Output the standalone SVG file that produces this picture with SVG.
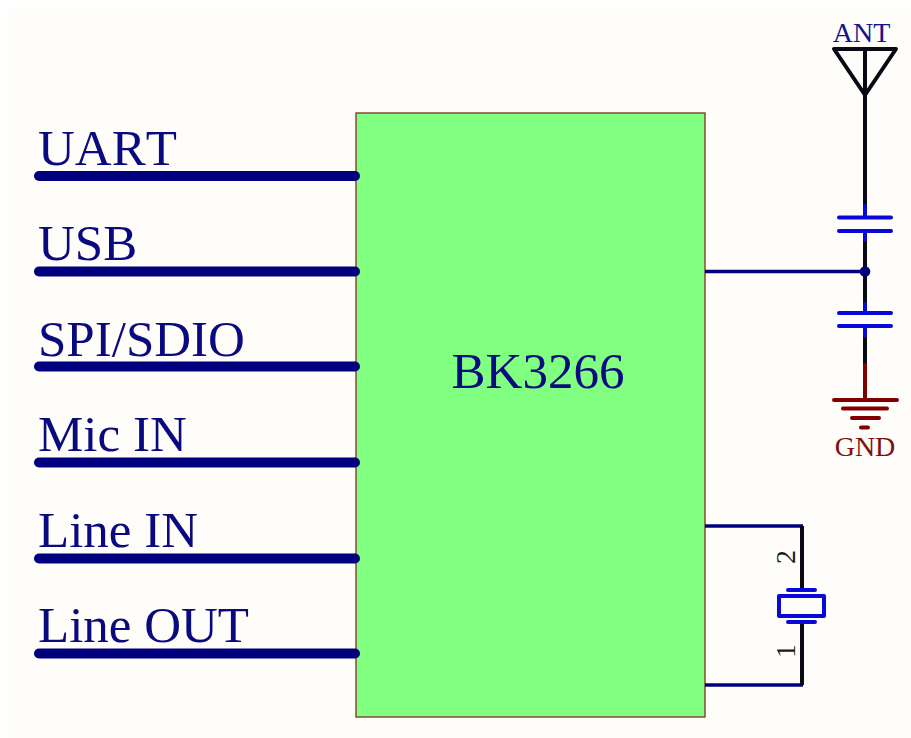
<svg xmlns="http://www.w3.org/2000/svg" width="911" height="738" viewBox="0 0 911 738">
<style>
text{font-family:"Liberation Serif","Times New Roman",serif;font-kerning:none}
.bus{stroke:#00007f;stroke-width:10;stroke-linecap:round;fill:none}
.lab{fill:#0a0a80;font-size:51px}
.wire{stroke:#00007f;stroke-width:3.5;fill:none}
.blk{stroke:#0a0a14;stroke-width:4;fill:none}
.blu{stroke:#0808d8;stroke-width:4;fill:none;stroke-linecap:round}
.red{stroke:#800000;stroke-width:4;fill:none;stroke-linecap:round}
</style>
<rect width="911" height="738" fill="#ffffff"/>
<rect x="7" y="7" width="904" height="731" fill="#fffdf9"/>
<g id="bk3266">
<rect x="356" y="113" width="349" height="604" fill="#80ff80" stroke="#8a4a30" stroke-width="1.500"/>
<text x="538" y="388" font-size="51" fill="#0a0a80" text-anchor="middle">BK3266</text>
</g>
<g id="connectors">
<path class="bus" d="M39 176H355"/>
<path class="bus" d="M39 271.500H355"/>
<path class="bus" d="M39 366.500H355"/>
<path class="bus" d="M39 462.500H355"/>
<path class="bus" d="M39 558.500H355"/>
<path class="bus" d="M39 653.500H355"/>
<path class="wire" d="M705 271.500H865"/>
<path class="wire" d="M705 526H803"/>
<path class="wire" d="M705 685H803"/>
<path class="blk" d="M865 48V206M865 240V304M865 336V366"/>
<path class="blk" d="M802 526V590M802 622V685"/>
</g>
<g id="uart"><text class="lab" x="38" y="165">UART</text></g>
<g id="usb"><text class="lab" x="38" y="260">USB</text></g>
<g id="spi"><text class="lab" x="38" y="356">SPI/SDIO</text></g>
<g id="mic"><text class="lab" x="38" y="451">Mic IN</text></g>
<g id="linein"><text class="lab" x="38" y="547">Line IN</text></g>
<g id="lineout"><text class="lab" x="38" y="642">Line OUT</text></g>
<g id="ant">
<text x="861.500" y="42" font-size="28" fill="#14148c" text-anchor="middle">ANT</text>
<path d="M834 49H896L865 95Z" fill="none" stroke="#0a0a14" stroke-width="4" stroke-linejoin="round"/>
</g>
<g id="c1">
<path class="blu" d="M865 206V217M865 231V240M839 217.500H891M839 231H891"/>
</g>
<g id="junction"><circle cx="865" cy="271.500" r="5.300" fill="#00007f"/></g>
<g id="c2">
<path class="blu" d="M865 304V313M865 326V336M839 313H891M839 326H891"/>
</g>
<g id="gnd">
<path class="red" d="M865 365V400M834 400H897M843 408.500H887M852 418H879M861 427.500H868"/>
<text x="865" y="456" font-size="28" fill="#7f1010" text-anchor="middle">GND</text>
</g>
<g id="crystal">
<path class="blu" d="M788 590H815M788 622H815"/>
<rect x="779" y="596" width="45" height="20" fill="none" stroke="#0808d8" stroke-width="4" stroke-linejoin="round"/>
<text transform="translate(795 557) rotate(-90)" font-size="28" fill="#1a1a1a" text-anchor="middle">2</text>
<text transform="translate(795 651) rotate(-90)" font-size="28" fill="#1a1a1a" text-anchor="middle">1</text>
</g>
</svg>
